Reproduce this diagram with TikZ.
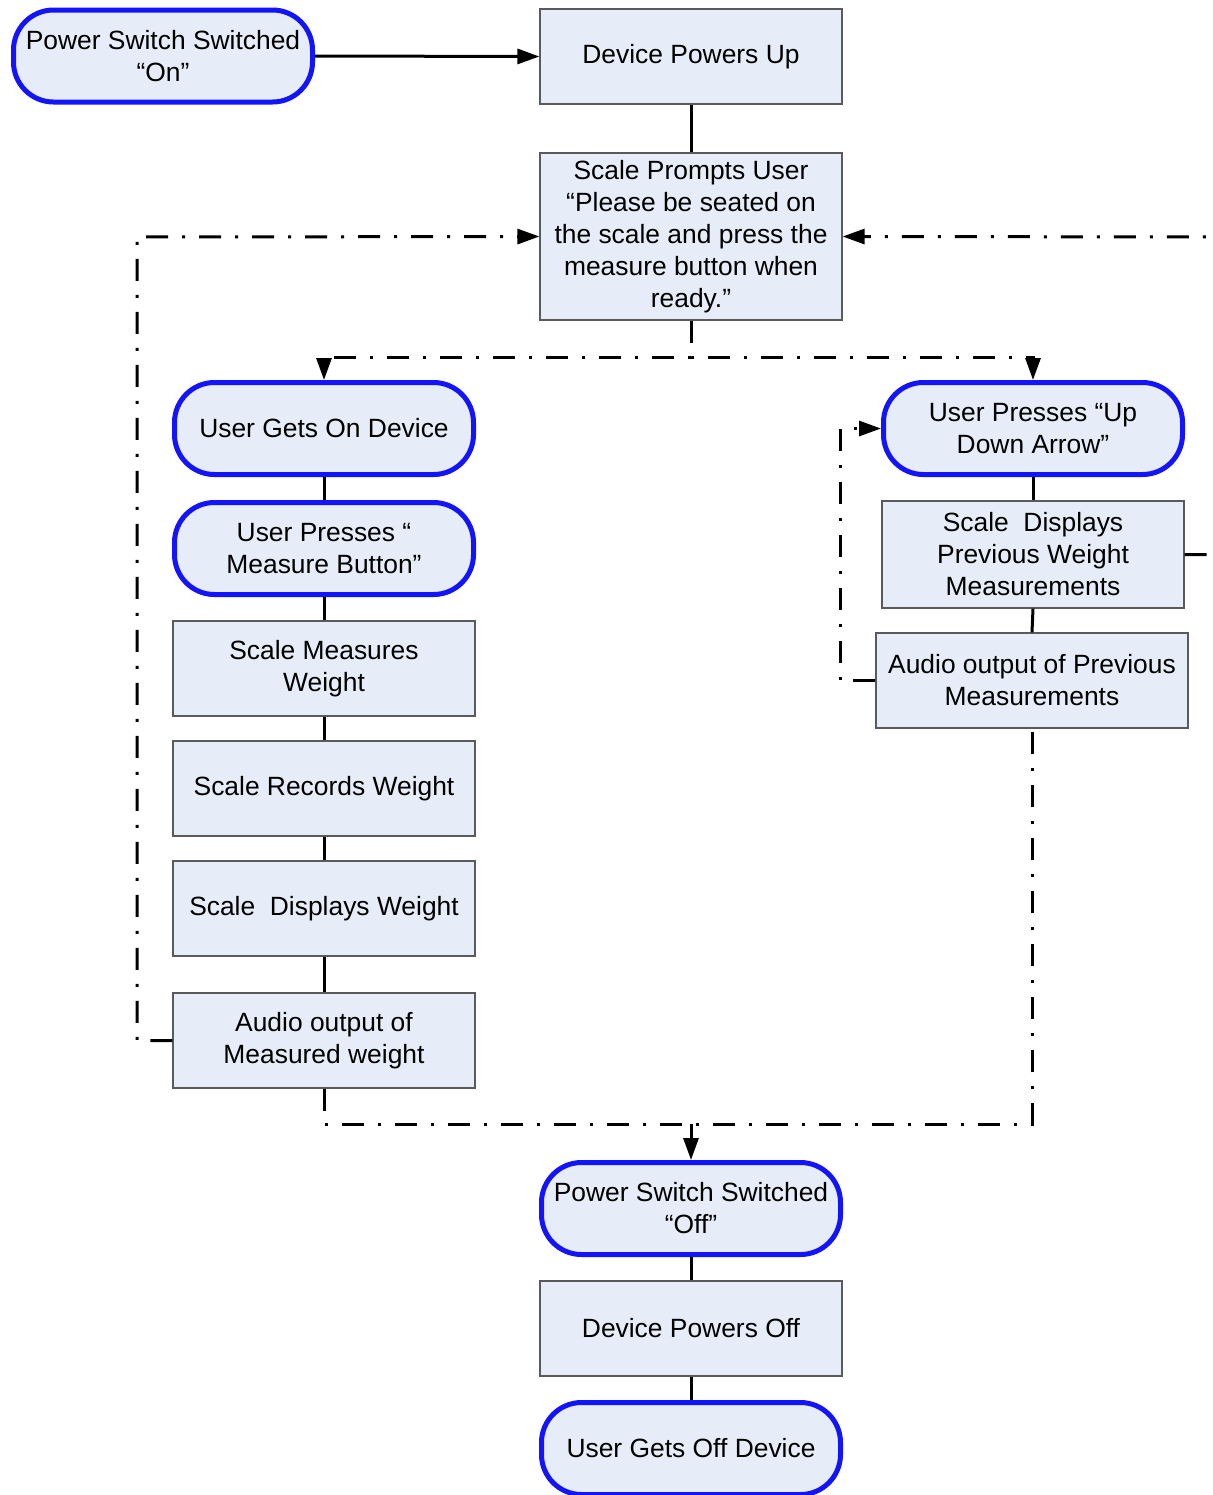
\documentclass[tikz,border=0pt]{standalone}
\usepackage{fontspec}
\setmainfont{Liberation Sans}
\usetikzlibrary{arrows.meta}
\definecolor{boxfill}{RGB}{231,237,248}
\definecolor{termblue}{RGB}{20,20,250}
\definecolor{boxgray}{RGB}{90,90,90}
\begin{document}
\begin{tikzpicture}[x=0.5pt,y=-0.5pt,
 box/.style={draw=boxgray, line width=0.6pt, fill=boxfill, minimum width=151pt, minimum height=47.5pt, align=center, inner sep=1pt, font=\fontsize{13.2}{16}\selectfont},
 term/.style={box, draw=termblue, line width=2.5pt, rounded corners=20pt, minimum width=149.5pt, minimum height=46pt},
 con/.style={line width=1.5pt},
 dd/.style={con, dash pattern=on 11pt off 7pt on 1.5pt off 7pt},
 tip/.style={-{Triangle[length=11pt,width=7.5pt]}}
]
\useasboundingbox (0,0) rectangle (1213,1495);
\clip (0,0) rectangle (1213,1495);

\node[term] (pon) at (163,56) {Power Switch Switched\\“On”};
\node[box] (dpu) at (691,56.5) {Device Powers Up};
\node[box, minimum height=83.5pt] (sp) at (691,236.5) {Scale Prompts User\\“Please be seated on\\the scale and press the\\measure button when\\ready.”};
\node[term] (ugo) at (324,428.5) {User Gets On Device};
\node[term] (upm) at (324,548.5) {User Presses “\\ Measure Button”};
\node[box] (smw) at (324,668.5) {Scale Measures\\Weight};
\node[box] (srw) at (324,788.5) {Scale Records Weight};
\node[box] (sdw) at (324,908.5) {Scale\ \ Displays Weight};
\node[box] (amw) at (324,1040.5) {Audio output of\\Measured weight};
\node[term] (upu) at (1033,428.5) {User Presses “Up\\Down Arrow”};
\node[box, minimum height=53.5pt] (sdp) at (1033,554.5) {Scale\ \ Displays\\Previous Weight\\Measurements};
\node[box, minimum width=156pt] (ap) at (1032,680.5) {Audio output of Previous\\Measurements};
\node[term] (pof) at (691,1208.5) {Power Switch Switched\\“Off”};
\node[box] (dpo) at (691,1328.5) {Device Powers Off};
\node[term] (ugf) at (691,1448.5) {User Gets Off Device};

% solid connectors
\draw[con,tip] (pon.east) -- (dpu.west);
\draw[con] (dpu.south) -- (sp.north);
\draw[con] (ugo.south) -- (upm.north);
\draw[con] (upm.south) -- (smw.north);
\draw[con] (smw.south) -- (srw.north);
\draw[con] (srw.south) -- (sdw.north);
\draw[con] (sdw.south) -- (amw.north);
\draw[con] (upu.south) -- (sdp.north);
\draw[con] (sdp.south) -- (ap.north);
\draw[con] (pof.south) -- (dpo.north);
\draw[con] (dpo.south) -- (ugf.north);

% split below prompt
\coordinate (split) at (691,357);
\draw[dd,tip] (sp.south) -- (split) -| (ugo.north);
\draw[dd,tip] (sp.south) -- (split) -| (upu.north);

% left loop back to prompt
\coordinate (ll) at (137,1040.5);
\coordinate (lt) at (137,237);
\draw[dd,tip] (amw.west) -- (ll) -- (lt) -- (sp.west);

% right loop back to prompt
\coordinate (rr) at (1240,554.5);
\coordinate (rt) at (1240,237);
\draw[dd,tip] (sdp.east) -- (rr) -- (rt) -- (sp.east);

% inner right loop
\coordinate (il) at (840,680.5);
\draw[dd,tip] (ap.west) -- (il) |- (upu.west);

% merge to power off
\coordinate (bl) at (324,1124);
\coordinate (br) at (1032,1124);
\coordinate (bm) at (691,1124);
\draw[dd] (amw.south) -- (bl) -- (br) -- (ap.south);
\draw[dd,tip] (bm) -- (pof.north);
\end{tikzpicture}
\end{document}
